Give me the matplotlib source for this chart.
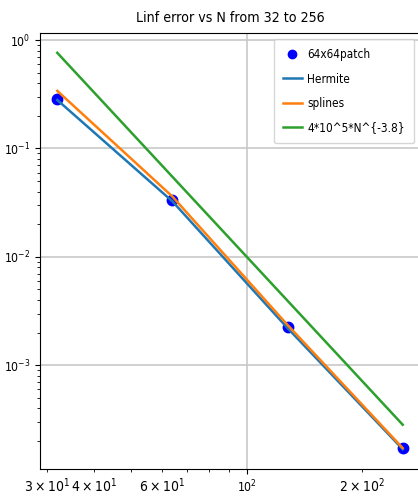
import numpy as np
import matplotlib
matplotlib.use("Agg")
import matplotlib.pyplot as plt

plt.rcParams['font.family'] = ['DejaVu Sans']
plt.rcParams['font.stretch'] = 'condensed'
plt.rcParams['mathtext.fontset'] = 'custom'
plt.rcParams['mathtext.rm'] = 'DejaVu Sans:stretch=condensed'
plt.rcParams['mathtext.it'] = 'DejaVu Sans:italic:stretch=condensed'
plt.rcParams['mathtext.bf'] = 'DejaVu Sans:bold:stretch=condensed'

N = [32, 64, 128, 256]
patch64 = [0.285, 0.0333, 0.00225, 0.000172]
hermite = [0.280, 0.0325, 0.00220, 0.000168]
splines = [0.340, 0.0360, 0.00235, 0.000172]
ref_coef = 4e5
ref_exp = -3.8
ref_line = [ref_coef * n ** ref_exp for n in N]

fig = plt.figure(figsize=(4.18, 5.0), dpi=100)
ax = fig.add_axes([40/418, 31/500, 380/418, 436/500])

ax.loglog(N, patch64, 'o', color='blue', markersize=7.5, label='64x64patch')
ax.loglog(N, hermite, '-', color='C0', linewidth=1.8, label='Hermite')
ax.loglog(N, splines, '-', color='C1', linewidth=1.8, label='splines')
ax.loglog(N, ref_line, '-', color='C2', linewidth=1.8, label='4*10^5*N^{-3.8}')

ax.grid(True, which='major', color='#c8c8c8', linewidth=1.2)
ax.set_title('Linf error vs N from 32 to 256', fontsize=10.2, pad=8)
ax.tick_params(labelsize=8.7)
ax.legend(loc='upper right', fontsize=8.5, handlelength=1.6, handletextpad=0.45,
          labelspacing=0.95, borderpad=0.8, markerscale=0.8)

fig.savefig('out.png', dpi=100)
